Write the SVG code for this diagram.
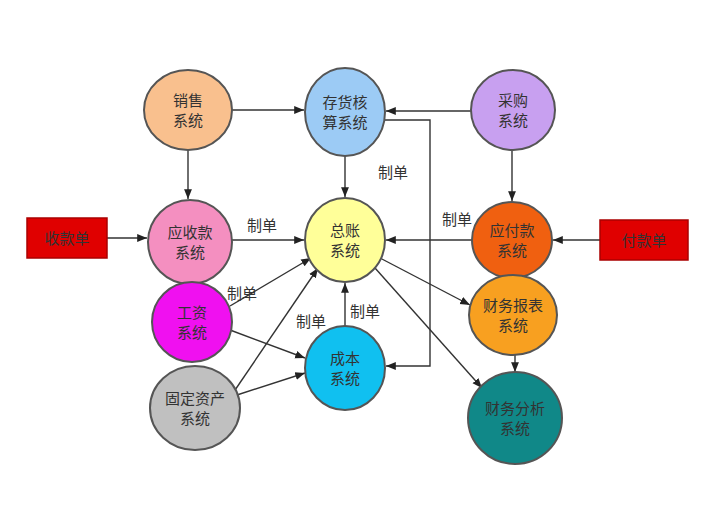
<svg xmlns="http://www.w3.org/2000/svg" width="704" height="528" viewBox="0 0 704 528">
<defs>
<marker id="a" viewBox="0 0 10 10" refX="10" refY="5" markerWidth="7" markerHeight="7" orient="auto"><path d="M0,1 L10,5 L0,9 z" fill="#222"/></marker>
<style>
.n{stroke:#555;stroke-width:2}
.t{font-family:"Noto Sans CJK SC",sans-serif;font-size:15px;fill:#333;text-anchor:middle}
.c line,.c path{stroke:#333;stroke-width:1.4;fill:none;marker-end:url(#a)}
</style>
</defs>
<rect width="704" height="528" fill="#fff"/>
<g class="c">
<line x1="232" y1="110" x2="304" y2="110"/>
<line x1="188" y1="150" x2="188" y2="199"/>
<line x1="471" y1="111" x2="386" y2="111"/>
<path d="M384,120 H430 V366 H386"/>
<line x1="512" y1="150" x2="512" y2="201"/>
<line x1="345" y1="156" x2="345" y2="197"/>
<line x1="232" y1="240" x2="304" y2="240"/>
<line x1="472" y1="240" x2="386" y2="240"/>
<line x1="107" y1="238" x2="147" y2="238"/>
<line x1="600" y1="240" x2="553" y2="240"/>
<line x1="230" y1="306" x2="311" y2="258"/>
<line x1="230" y1="330" x2="305" y2="358"/>
<line x1="233" y1="393" x2="318" y2="268"/>
<line x1="237" y1="395" x2="305" y2="373"/>
<line x1="345" y1="326" x2="345" y2="283"/>
<line x1="380" y1="258" x2="470" y2="305"/>
<line x1="375" y1="268" x2="482" y2="388"/>
<line x1="515" y1="355" x2="515" y2="372"/>
</g>
<g id="xs"><ellipse class="n" cx="188" cy="110" rx="44" ry="40" fill="#f9c08e"/><text class="t" x="188" y="106">销售</text><text class="t" x="188" y="126">系统</text></g>
<g id="ch"><ellipse class="n" cx="345" cy="112" rx="40" ry="44" fill="#9ccbf5"/><text class="t" x="345" y="108">存货核</text><text class="t" x="345" y="128">算系统</text></g>
<g id="cg"><ellipse class="n" cx="513" cy="110" rx="42" ry="40" fill="#c8a0f0"/><text class="t" x="513" y="106">采购</text><text class="t" x="513" y="126">系统</text></g>
<g id="ys"><ellipse class="n" cx="190" cy="242" rx="42" ry="42" fill="#f48fc0"/><text class="t" x="190" y="238">应收款</text><text class="t" x="190" y="258">系统</text></g>
<g id="zz"><ellipse class="n" cx="345" cy="240" rx="40" ry="42" fill="#ffff99"/><text class="t" x="345" y="236">总账</text><text class="t" x="345" y="256">系统</text></g>
<g id="yf"><ellipse class="n" cx="512" cy="240" rx="40" ry="38" fill="#f06010"/><text class="t" x="512" y="236">应付款</text><text class="t" x="512" y="256">系统</text></g>
<g id="skd"><rect x="27" y="218" width="80" height="40" fill="#e00000" stroke="#a00" stroke-width="1.5"/><text class="t" x="67" y="244">收款单</text></g>
<g id="fkd"><rect x="600" y="220" width="88" height="40" fill="#e00000" stroke="#a00" stroke-width="1.5"/><text class="t" x="644" y="246">付款单</text></g>
<g id="gz"><ellipse class="n" cx="192" cy="322" rx="40" ry="40" fill="#f010f0"/><text class="t" x="192" y="318">工资</text><text class="t" x="192" y="338">系统</text></g>
<g id="cwbb"><ellipse class="n" cx="513" cy="315" rx="44" ry="40" fill="#f8a020"/><text class="t" x="513" y="311">财务报表</text><text class="t" x="513" y="331">系统</text></g>
<g id="cb"><ellipse class="n" cx="345" cy="368" rx="40" ry="42" fill="#10c0f0"/><text class="t" x="345" y="364">成本</text><text class="t" x="345" y="384">系统</text></g>
<g id="gdzc"><ellipse class="n" cx="195" cy="408" rx="45" ry="42" fill="#c0c0c0"/><text class="t" x="195" y="404">固定资产</text><text class="t" x="195" y="424">系统</text></g>
<g id="cwfx"><ellipse class="n" cx="515" cy="418" rx="47" ry="46" fill="#108888"/><text class="t" x="515" y="414">财务分析</text><text class="t" x="515" y="434">系统</text></g>
<g id="labels">
<text class="t" x="393" y="178">制单</text>
<text class="t" x="457" y="225">制单</text>
<text class="t" x="262" y="231">制单</text>
<text class="t" x="242" y="299">制单</text>
<text class="t" x="311" y="327">制单</text>
<text class="t" x="365" y="317">制单</text>
</g>
</svg>
